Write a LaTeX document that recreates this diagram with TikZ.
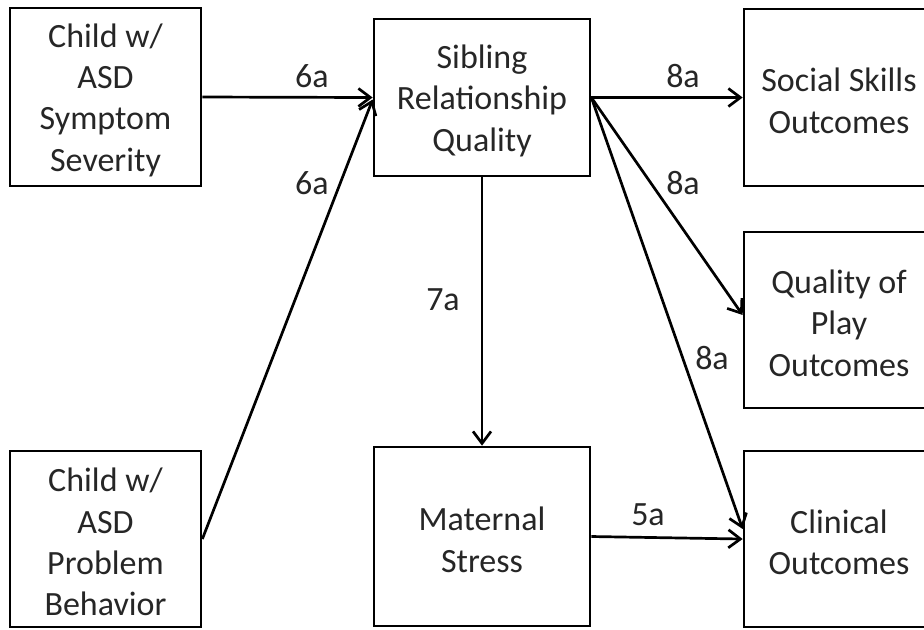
\documentclass[tikz,border=0pt]{standalone}
\usepackage{fontspec}
\setmainfont{Carlito}
\usetikzlibrary{arrows.meta}

\begin{document}
\begin{tikzpicture}[x=0.5pt,y=-0.5pt,line width=1.35pt,
  every node/.style={font=\fontsize{17}{20.7}\selectfont,text=black!85},
  box/.style={draw=black,align=center,inner sep=0pt},
  link/.style={draw=black,-{Straight Barb[length=6pt,width=9pt]}},
  lbl/.style={inner sep=0pt}]
\useasboundingbox (0,0) rectangle (924,629);
% boxes
\node [box,minimum width=95.5pt,minimum height=89pt] (severity) at (105.5,97) {\rule{0pt}{15pt}Child w/\\ASD\\Symptom\\Severity};
\node [box,minimum width=95.5pt,minimum height=88pt] (problem) at (105.5,539) {\rule{0pt}{15pt}Child w/\\ASD\\Problem\\Behavior};
\node [box,minimum width=108pt,minimum height=78.5pt] (sibling) at (482,97.5) {\rule{0pt}{15pt}Sibling\\Relationship\\Quality};
\node [box,minimum width=108pt,minimum height=89.5pt] (stress) at (482,536.5) {\rule{0pt}{15pt}Maternal\\Stress};
\node [box,minimum width=95pt,minimum height=88.5pt] (social) at (839,97.5) {\rule{0pt}{15pt}Social Skills\\Outcomes};
\node [box,minimum width=95pt,minimum height=88pt] (play) at (839,320) {\rule{0pt}{15pt}Quality of\\Play\\Outcomes};
\node [box,minimum width=95pt,minimum height=88pt] (clinical) at (839,539) {\rule{0pt}{15pt}Clinical\\Outcomes};
% paths
\draw [link] (severity.east) -- (sibling.west);
\draw [link] (problem.east) -- ([yshift=-1pt]sibling.west);
\draw [link] (sibling.east) -- (social.west);
\draw [link] (sibling.east) -- ([yshift=2.5pt]play.west);
\draw [link] (sibling.east) -- ([yshift=5pt]clinical.west);
\draw [link] (sibling.south) -- (stress.north);
\draw [link] (stress.east) -- (clinical.west);
% labels
\node [lbl] (l6a) at (312,76) {6a};
\node [lbl] (l6b) at (312,183) {6a};
\node [lbl] (l8a) at (683,76) {8a};
\node [lbl] (l8b) at (683,183) {8a};
\node [lbl] (l8c) at (712,358) {8a};
\node [lbl] (l7a) at (443,300) {7a};
\node [lbl] (l5a) at (648,515) {5a};
\end{tikzpicture}
\end{document}
